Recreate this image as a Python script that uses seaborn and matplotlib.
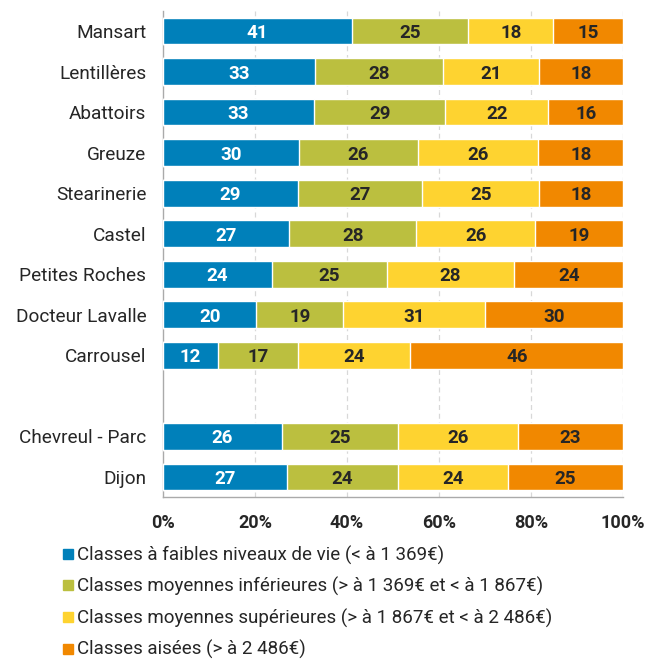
import matplotlib
matplotlib.use("Agg")
import matplotlib.pyplot as plt
from matplotlib.lines import Line2D
import numpy as np
import pandas as pd
import seaborn as sns

zones = ["Mansart", "Lentillères", "Abattoirs", "Greuze", "Stearinerie", "Castel",
         "Petites Roches", "Docteur Lavalle", "Carrousel", "Chevreul - Parc", "Dijon"]
faibles = [41.0, 33.0, 32.8, 29.6, 29.3, 27.4, 23.6, 20.3, 12.0, 25.9, 26.9]
moy_inf = [25.4, 27.8, 28.6, 25.8, 27.1, 27.7, 25.0, 18.9, 17.4, 25.1, 24.1]
moy_sup = [18.4, 20.9, 22.4, 26.2, 25.3, 25.7, 27.8, 30.7, 24.4, 26.1, 24.0]
aisees = [15.2, 18.3, 16.2, 18.4, 18.3, 19.2, 23.6, 30.1, 46.2, 22.9, 25.0]

series_names = ["Classes à faibles niveaux de vie (< à 1 369€)",
                "Classes moyennes inférieures (> à 1 369€ et < à 1 867€)",
                "Classes moyennes supérieures (> à 1 867€ et < à 2 486€)",
                "Classes aisées (> à 2 486€)"]
colors = ["#0080BA", "#BBBF3F", "#FED330", "#F18800"]
text_colors = ["white", "#262626", "#262626", "#262626"]
x_ticks = [0, 20, 40, 60, 80, 100]
x_tick_labels = ["0%", "20%", "40%", "60%", "80%", "100%"]

sns.set_theme(style="white")
plt.rcParams["font.family"] = ["Roboto", "DejaVu Sans"]

df = pd.DataFrame({"zone": zones, "s0": faibles, "s1": moy_inf, "s2": moy_sup, "s3": aisees})
cols = ["s0", "s1", "s2", "s3"]
cum = df[cols].cumsum(axis=1)
cum["zone"] = df["zone"]

gap = " "
order = zones[:9] + [gap] + zones[9:]

fig = plt.figure(figsize=(6.59, 6.60), dpi=100)
ax = fig.add_axes([0.2473, 0.2465, 0.6981, 0.7373])

for i in reversed(range(4)):
    sns.barplot(data=cum, x=cols[i], y="zone", order=order, orient="h",
                color=colors[i], saturation=1, width=0.66, ax=ax, zorder=3)

# segment labels
pos = {z: order.index(z) for z in zones}
for i, c in enumerate(cols):
    for _, row in df.iterrows():
        v = row[c]
        center = cum.loc[_, c] - v / 2
        ax.text(center, pos[row["zone"]], f"{v:.0f}", ha="center", va="center_baseline",
                color=text_colors[i], fontsize=13.5, fontweight="bold", zorder=4)

ax.set_xlim(0, 100)
ax.set_ylim(len(order) - 0.5, -0.5)
ax.set_xlabel("")
ax.set_ylabel("")
ax.set_xticks(x_ticks)
ax.set_xticklabels(x_tick_labels, fontsize=13, fontweight="bold", color="#262626")
ax.set_yticks(range(len(order)))
ax.set_yticklabels(order, fontsize=13.7, color="#262626")
ax.tick_params(axis="y", which="major", length=0, pad=12)
ax.set_yticks(np.arange(-0.5, len(order), 1.0), minor=True)
ax.tick_params(axis="y", which="minor", length=5, color="#AAAAAA", width=1)
ax.tick_params(axis="x", which="major", length=5, color="#AAAAAA", width=1, pad=7)

for x in x_ticks[1:]:
    ax.axvline(x, color="#D8D8D8", linestyle=(0, (4, 3)), linewidth=0.9, zorder=1)

for s in ["top", "right"]:
    ax.spines[s].set_visible(False)
for s in ["left", "bottom"]:
    ax.spines[s].set_color("#AAAAAA")
    ax.spines[s].set_linewidth(1)

handles = [Line2D([0], [0], marker="s", linestyle="none", markersize=7.5,
                  markerfacecolor=c, markeredgecolor=c) for c in colors]
fig.legend(handles, series_names, loc="upper left", bbox_to_anchor=(0.0926, 0.1735),
           frameon=False, fontsize=13.5, handlelength=0.7, handletextpad=0.16,
           labelspacing=0.66, borderaxespad=0, borderpad=0, labelcolor="#262626")

fig.savefig("out.png", dpi=100)
